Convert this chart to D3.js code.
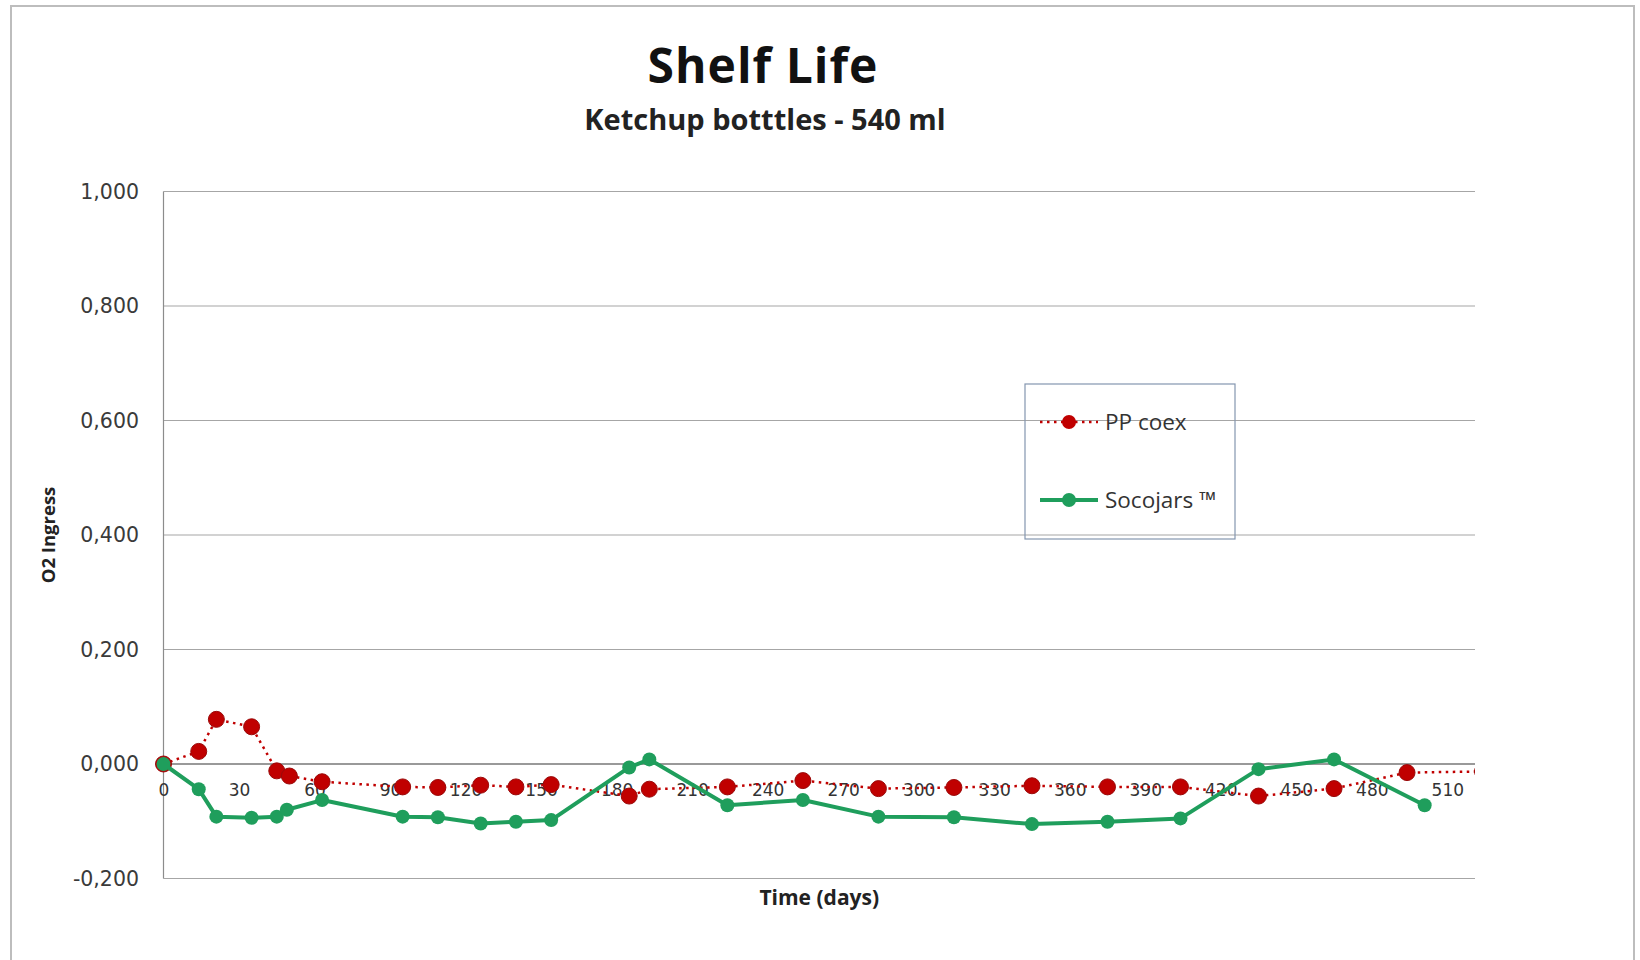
<!DOCTYPE html>
<html>
<head>
<meta charset="utf-8">
<script src="https://cdn.jsdelivr.net/npm/d3@7"></script>
<style>
    body { margin: 0; background: #fff; }
    svg { display: block; }
</style>
</head>
<body>
<svg></svg>
<script>
// PP coex (red, dotted) - last point lies past the axis end and gets clipped
var ppDays   = [0, 14, 21, 35, 45, 50, 63, 95, 109, 126, 140, 154, 185, 193, 224, 254, 284, 314, 345, 375, 404, 435, 465, 494, 524];
var ppValues = [0, 0.022, 0.078, 0.065, -0.012, -0.021, -0.031, -0.040, -0.041, -0.037, -0.040, -0.036, -0.056, -0.044, -0.040, -0.029, -0.043, -0.041, -0.038, -0.040, -0.040, -0.056, -0.043, -0.015, -0.013];

// Socojars (green, solid)
var socoDays   = [0, 14, 21, 35, 45, 49, 63, 95, 109, 126, 140, 154, 185, 193, 224, 254, 284, 314, 345, 375, 404, 435, 465, 501];
var socoValues = [0, -0.044, -0.092, -0.094, -0.092, -0.080, -0.063, -0.092, -0.093, -0.104, -0.101, -0.098, -0.006, 0.008, -0.072, -0.063, -0.092, -0.093, -0.105, -0.101, -0.095, -0.009, 0.008, -0.072];

var xTicks = [0, 30, 60, 90, 120, 150, 180, 210, 240, 270, 300, 330, 360, 390, 420, 450, 480, 510];
var yTicks = [-0.2, 0, 0.2, 0.4, 0.6, 0.8, 1.0];

var seriesNames = ["PP coex", "Socojars \u2122"];

var svgWidth = 1640, svgHeight = 960;
var svg = d3.select("svg")
    .attr("width", svgWidth)
    .attr("height", svgHeight);

var red = "#c00000", green = "#1f9e5c";
var titleFont = "'Open Sans', Lato, sans-serif";
var tickFont = "'DejaVu Sans', Verdana, sans-serif";

// chart frame
svg.append("rect")
    .attr("x", 11).attr("y", 6)
    .attr("width", 1623).attr("height", 970)
    .attr("fill", "#fff")
    .attr("stroke", "#bdbdbd")
    .attr("stroke-width", 2);

var x = d3.scaleLinear().domain([0, 521]).range([163.5, 1475]);
var y = d3.scaleLinear().domain([-0.2, 1.0]).range([878.5, 191.5]);

svg.append("defs").append("clipPath")
    .attr("id", "plotClip")
    .append("rect")
    .attr("x", 150).attr("y", 180)
    .attr("width", 1475 - 150).attr("height", 720);

// titles
svg.append("text")
    .attr("x", 763).attr("y", 83)
    .attr("text-anchor", "middle")
    .style("font-family", titleFont)
    .style("font-weight", "bold")
    .style("font-size", "48px")
    .style("letter-spacing", "1px")
    .attr("fill", "#111")
    .text("Shelf Life");

svg.append("text")
    .attr("x", 765).attr("y", 130)
    .attr("text-anchor", "middle")
    .style("font-family", titleFont)
    .style("font-weight", "bold")
    .style("font-size", "29px")
    .attr("fill", "#222")
    .text("Ketchup botttles - 540 ml");

// gridlines
var grid = svg.append("g");
grid.selectAll("line")
    .data(yTicks)
    .enter()
    .append("line")
    .attr("x1", x(0)).attr("x2", x.range()[1])
    .attr("y1", function(d) { return y(d); })
    .attr("y2", function(d) { return y(d); })
    .attr("stroke", function(d) { return d === 0 ? "#777" : "#a6a6a6"; })
    .attr("stroke-width", function(d) { return d === 0 ? 1.5 : 1.2; });

svg.append("line")
    .attr("x1", x(0)).attr("x2", x(0))
    .attr("y1", y(1.0)).attr("y2", y(-0.2))
    .attr("stroke", "#8c8c8c")
    .attr("stroke-width", 1.2);

// y axis labels
var fmt = function(v) {
    return (v < 0 ? "-" : "") + Math.abs(v).toFixed(3).replace(".", ",");
};

var yAxis = d3.axisLeft(y).tickValues(yTicks).tickFormat(fmt).tickSize(0).tickPadding(0);
var gy = svg.append("g")
    .attr("transform", "translate(139,0)")
    .call(yAxis);
gy.select(".domain").remove();
gy.selectAll("text")
    .style("font-family", tickFont)
    .style("font-size", "20.5px")
    .attr("fill", "#3a3a3a");

// x axis labels sit under the zero line
var xAxis = d3.axisBottom(x).tickValues(xTicks).tickFormat(d3.format("d")).tickSize(0).tickPadding(0);
var gx = svg.append("g")
    .attr("transform", "translate(0," + (y(0) + 26) + ")")
    .call(xAxis);
gx.select(".domain").remove();
gx.selectAll("text")
    .attr("dy", "0.35em")
    .style("font-family", tickFont)
    .style("font-size", "17px")
    .attr("fill", "#333");

// axis titles
svg.append("text")
    .attr("transform", "translate(55," + ((y(1) + y(-0.2)) / 2) + ") rotate(-90)")
    .attr("text-anchor", "middle")
    .style("font-family", titleFont)
    .style("font-weight", "bold")
    .style("font-size", "18.5px")
    .attr("fill", "#222")
    .text("O2 Ingress");

svg.append("text")
    .attr("x", (x.range()[0] + x.range()[1]) / 2).attr("y", 905)
    .attr("text-anchor", "middle")
    .style("font-family", titleFont)
    .style("font-weight", "bold")
    .style("font-size", "21px")
    .attr("fill", "#222")
    .text("Time (days)");

// series
var ppData = ppDays.map(function(d, i) { return [d, ppValues[i]]; });
var socoData = socoDays.map(function(d, i) { return [d, socoValues[i]]; });

var line = d3.line()
    .x(function(d) { return x(d[0]); })
    .y(function(d) { return y(d[1]); });

var plot = svg.append("g").attr("clip-path", "url(#plotClip)");

plot.append("path")
    .attr("d", line(ppData))
    .attr("fill", "none")
    .attr("stroke", red)
    .attr("stroke-width", 2.5)
    .attr("stroke-dasharray", "2.5,4.5");

plot.selectAll(".pp")
    .data(ppData)
    .enter()
    .append("circle")
    .attr("class", "pp")
    .attr("cx", function(d) { return x(d[0]); })
    .attr("cy", function(d) { return y(d[1]); })
    .attr("r", 8)
    .attr("fill", red)
    .attr("stroke", "#9a0a0a")
    .attr("stroke-width", 1);

plot.append("path")
    .attr("d", line(socoData))
    .attr("fill", "none")
    .attr("stroke", green)
    .attr("stroke-width", 4)
    .attr("stroke-linejoin", "round");

plot.selectAll(".soco")
    .data(socoData)
    .enter()
    .append("circle")
    .attr("class", "soco")
    .attr("cx", function(d) { return x(d[0]); })
    .attr("cy", function(d) { return y(d[1]); })
    .attr("r", 7)
    .attr("fill", green);

// legend (no fill, gridline shows through)
var legend = svg.append("g");
legend.append("rect")
    .attr("x", 1025).attr("y", 384)
    .attr("width", 210).attr("height", 155)
    .attr("fill", "none")
    .attr("stroke", "#8496b0")
    .attr("stroke-width", 1.2);

var legendRows = [
    { name: seriesNames[0], color: red, dash: "2.5,4.5", width: 2.5, y: 422 },
    { name: seriesNames[1], color: green, dash: null, width: 4, y: 500 }
];

legendRows.forEach(function(r) {
    legend.append("line")
        .attr("x1", 1040).attr("x2", 1098)
        .attr("y1", r.y).attr("y2", r.y)
        .attr("stroke", r.color)
        .attr("stroke-width", r.width)
        .attr("stroke-dasharray", r.dash);
    legend.append("circle")
        .attr("cx", 1069).attr("cy", r.y)
        .attr("r", 7)
        .attr("fill", r.color);
    legend.append("text")
        .attr("x", 1105).attr("y", r.y)
        .attr("dy", "0.35em")
        .style("font-family", titleFont)
        .style("font-size", "22.5px")
        .attr("fill", "#333")
        .text(r.name);
});
</script>
</body>
</html>
